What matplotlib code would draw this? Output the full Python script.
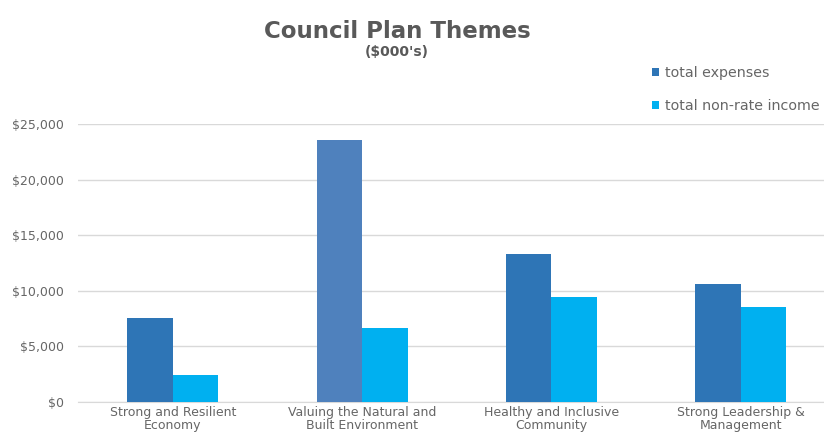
import matplotlib.pyplot as plt
import numpy as np

plt.rcParams['font.family'] = ['DejaVu Sans']

categories = ['Strong and Resilient\nEconomy', 'Valuing the Natural and\nBuilt Environment',
              'Healthy and Inclusive\nCommunity', 'Strong Leadership &\nManagement']
total_expenses = [7500, 23600, 13300, 10600]
non_rate_income = [2400, 6650, 9450, 8550]
expense_colors = ['#2e75b6', '#4f81bd', '#2e75b6', '#2e75b6']
income_color = '#00b0f0'

fig = plt.figure(figsize=(8.24, 4.43), dpi=100)
ax = fig.add_axes([0.095, 0.093, 0.905, 0.627])

x = np.arange(len(categories))
w = 0.24
ax.bar(x - w / 2, total_expenses, w, color=expense_colors, label='total expenses', zorder=3)
ax.bar(x + w / 2, non_rate_income, w, color=income_color, label='total non-rate income', zorder=3)

ax.set_xlim(-0.5, 3.44)
ax.set_ylim(0, 25000)
ax.set_yticks(np.arange(0, 25001, 5000))
ax.set_yticklabels(['$0', '$5,000', '$10,000', '$15,000', '$20,000', '$25,000'])
ax.set_xticks(x)
ax.set_xticklabels(categories, fontsize=9, color='#666666', linespacing=1.0)
ax.tick_params(axis='y', labelsize=9, labelcolor='#666666', length=0, pad=10.5)
ax.tick_params(axis='x', length=0, pad=3)
ax.grid(axis='y', color='#d9d9d9', linewidth=1, zorder=0)
for s in ['top', 'right', 'left']:
    ax.spines[s].set_visible(False)
ax.spines['bottom'].set_color('#d9d9d9')

fig.text(0.482, 0.928, 'Council Plan Themes', ha='center', va='center',
         fontsize=16.5, fontweight='bold', color='#595959')
fig.text(0.482, 0.883, "($000's)", ha='center', va='center',
         fontsize=10, fontweight='bold', color='#595959')

fig.legend(loc='upper left', bbox_to_anchor=(0.791, 0.85), frameon=False,
           fontsize=10.3, labelcolor='#666666', handlelength=0.5, handleheight=0.5,
           handletextpad=0.4, labelspacing=1.3, borderaxespad=0, borderpad=0)

fig.savefig('out.png', dpi=100)
